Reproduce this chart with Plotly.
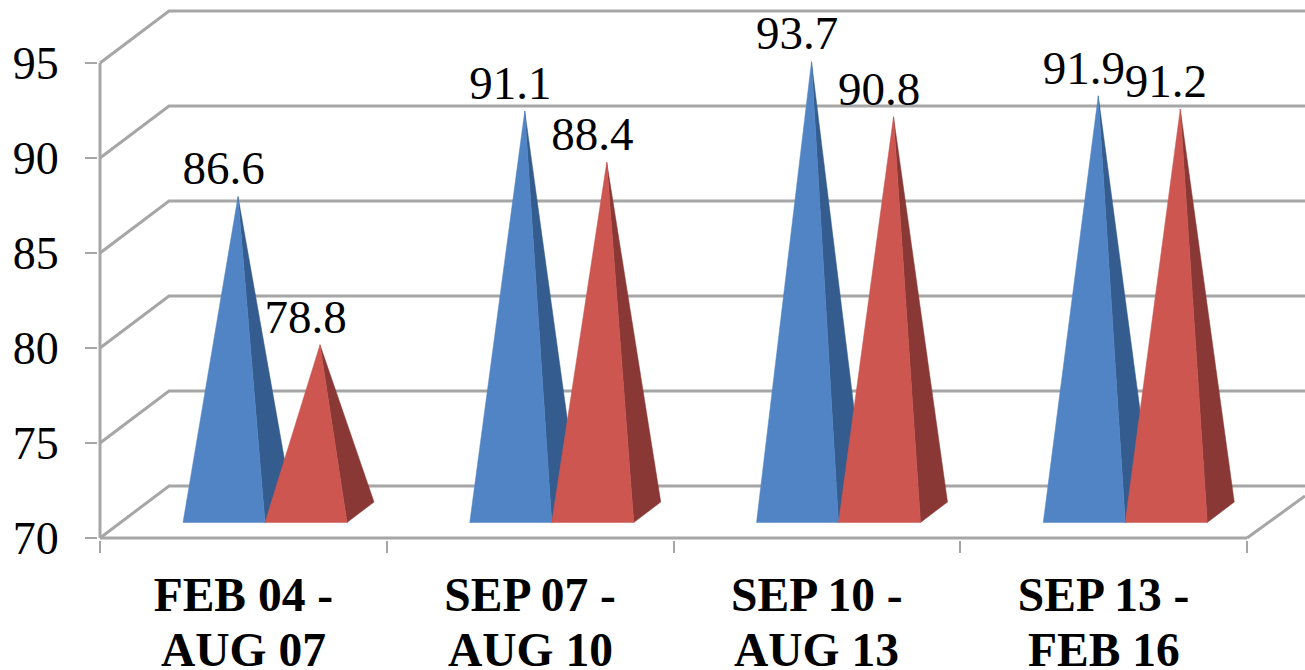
import plotly.graph_objects as go

categories_line1 = ["FEB 04 -", "SEP 07 -", "SEP 10 -", "SEP 13 -"]
categories_line2 = ["AUG 07", "AUG 10", "AUG 13", "FEB 16"]
series_blue = [86.6, 91.1, 93.7, 91.9]
series_red = [78.8, 88.4, 90.8, 91.2]
y_ticks = [70, 75, 80, 85, 90, 95]

GRID = "#A6A6A6"
SERIF = "Liberation Serif"
ORIGIN_X = 100
ORIGIN_Y = 538
PAD = 2               # pixels kept outside the axis lines so they are not clipped
PX_X = (1247 - ORIGIN_X) / 4   # pixels per category
PX_Y = 19.0           # pixels per value unit
XMIN = -PAD / PX_X
XMAX = (1305 - ORIGIN_X) / PX_X
YMIN = 70 - PAD / PX_Y
YMAX = 70 + ORIGIN_Y / PX_Y
DX = 69 / PX_X        # depth shift of the wall
DY = 52 / PX_Y
FW = 82 / PX_X        # pyramid base width
BASE_L = (183 - ORIGIN_X) / PX_X
BASE_Y = 70 + 15.5 / PX_Y
BACK_DX = 27 / PX_X
BACK_Y = 70 + 36 / PX_Y
APEX_DX = 55 / PX_X
APEX_LIFT = 1.37
LAB_DX = -14.5 / PX_X
LAB_DY = 24 / PX_Y

fig = go.Figure()


def line(xs, ys, width=3):
    fig.add_trace(go.Scatter(x=xs, y=ys, mode="lines", cliponaxis=False,
                             line=dict(color=GRID, width=width), hoverinfo="skip", showlegend=False))


for t in y_ticks:
    line([0, DX, XMAX], [t, t + DY, t + DY])
line([0, 0], [y_ticks[0], y_ticks[-1]])
line([0, len(categories_line1)], [70, 70])
line([len(categories_line1), XMAX], [70, 70 + (42 / PX_Y)])


def poly(xs, ys, color):
    fig.add_trace(go.Scatter(x=xs, y=ys, mode="lines", fill="toself", fillcolor=color,
                             line=dict(color=color, width=0.5), hoverinfo="skip", showlegend=False))


for i in range(len(categories_line1)):
    for s, (vals, front, side) in enumerate([(series_blue, "#5184C4", "#345C8E"),
                                             (series_red, "#CD5650", "#8A3835")]):
        left = i + BASE_L + s * FW
        right = left + FW
        ax = left + APEX_DX
        ay = vals[i] + APEX_LIFT
        poly([right, right + BACK_DX, ax, right], [BASE_Y, BACK_Y, ay, BASE_Y], side)
        poly([left, right, ax, left], [BASE_Y, BASE_Y, ay, BASE_Y], front)

for s, vals in enumerate([series_blue, series_red]):
    fig.add_trace(go.Scatter(
        x=[i + BASE_L + s * FW + APEX_DX + LAB_DX for i in range(len(vals))],
        y=[v + APEX_LIFT + LAB_DY for v in vals],
        mode="text", text=[f"{v:.1f}" for v in vals], textposition="middle center",
        textfont=dict(family=SERIF, size=47, color="#000000"),
        cliponaxis=False, hoverinfo="skip", showlegend=False))

n = len(categories_line1)
fig.update_layout(
    width=1305, height=670, margin=dict(l=ORIGIN_X - PAD, r=0, t=0, b=670 - ORIGIN_Y - PAD),
    paper_bgcolor="#FFFFFF", plot_bgcolor="#FFFFFF", showlegend=False,
    xaxis=dict(range=[XMIN, XMAX], showgrid=False, zeroline=False, showline=False,
               tickmode="array", tickvals=[i + 0.5 for i in range(n)], ticktext=[f"<b>{c}</b>" for c in categories_line1],
               ticks="", tickangle=0, ticklabelstandoff=22,
               tickfont=dict(family=SERIF, size=47.5, color="#000000"),
               minor=dict(tickmode="array", tickvals=list(range(n + 1)), ticks="outside", ticklen=12,
                          tickwidth=2, tickcolor=GRID, showgrid=False)),
    yaxis=dict(range=[YMIN, YMAX], showgrid=False, zeroline=False, showline=False,
               tickmode="array", tickvals=y_ticks, ticktext=[str(t) for t in y_ticks],
               ticks="outside", ticklen=12, tickwidth=2, tickcolor=GRID, ticklabelstandoff=17,
               tickfont=dict(family=SERIF, size=46, color="#000000")),
)
for i, c in enumerate(categories_line2):
    fig.add_annotation(x=i + 0.5, y=0, xref="x", yref="paper", yanchor="middle", yshift=-110,
                       text=f"<b>{c}</b>", showarrow=False,
                       font=dict(family=SERIF, size=47.5, color="#000000"))

fig.write_html("out.html", post_script="document.body.style.margin='0';",
               config={"displayModeBar": False})
